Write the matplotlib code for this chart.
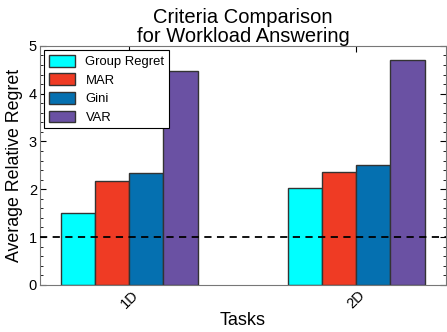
import numpy as np
import matplotlib.pyplot as plt
from matplotlib.ticker import MultipleLocator

plt.rcParams['font.family'] = ['Liberation Sans', 'DejaVu Sans']

tasks = ['1D', '2D']
criteria = ['Group Regret', 'MAR', 'Gini', 'VAR']
values = {
    'Group Regret': [1.50, 2.03],
    'MAR': [2.18, 2.37],
    'Gini': [2.34, 2.51],
    'VAR': [4.48, 4.70],
}
colors = ['#00FFFF', '#EF3B24', '#0570B0', '#6A51A3']

fig = plt.figure(figsize=(4.47, 3.32), dpi=100)
ax = fig.add_axes([0.089, 0.142, 0.909, 0.72])

x = np.arange(len(tasks))
width = 0.15
for i, (name, c) in enumerate(zip(criteria, colors)):
    ax.bar(x + (i - 1.5) * width, values[name], width, color=c,
           edgecolor='#333333', linewidth=1.0, label=name, zorder=2)

ax.axhline(1, color='black', linestyle='--', linewidth=1.3, dashes=(4, 3), zorder=3)

ax.set_xlim(-0.395, 1.395)
ax.set_ylim(0, 5)
ax.set_xticks(x)
ax.set_xticklabels(tasks, rotation=45, fontsize=10)
ax.yaxis.set_minor_locator(MultipleLocator(0.2))
ax.tick_params(axis='both', direction='in', top=True, right=True, labelsize=10.5, length=4, pad=2)
ax.tick_params(axis='y', which='minor', direction='in', right=True, length=2)
for s in ax.spines.values():
    s.set_color('#777777')

ax.set_xlabel('Tasks', fontsize=13, labelpad=1)
ax.set_ylabel('Average Relative Regret', fontsize=12.8, labelpad=4)
ax.set_title('Criteria Comparison\nfor Workload Answering', fontsize=14.5, linespacing=0.95, pad=3)

leg = ax.legend(loc='upper left', fontsize=9.4, fancybox=False, framealpha=1,
                edgecolor='black', borderaxespad=0.35, handlelength=2.0,
                handleheight=1.0, labelspacing=0.4, borderpad=0.35)
leg.get_frame().set_linewidth(0.8)

fig.savefig('out.png', dpi=100)
